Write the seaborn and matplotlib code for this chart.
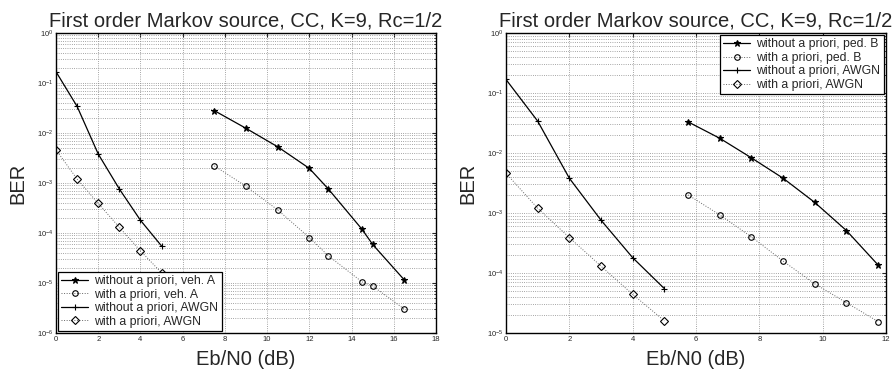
import numpy as np
import pandas as pd
import matplotlib
matplotlib.use("Agg")
import matplotlib.pyplot as plt
import seaborn as sns
from matplotlib.ticker import NullFormatter, FixedLocator

sns.set_style("white")
plt.rcParams['font.family'] = ['Liberation Sans', 'DejaVu Sans']

# ---- data ----
awgn_x = [0, 1, 2, 3, 4, 5]
awgn_without = [0.168, 0.034, 0.0038, 7.6e-4, 1.8e-4, 5.5e-5]
awgn_with = [4.6e-3, 1.2e-3, 3.9e-4, 1.3e-4, 4.4e-5, 1.6e-5]

veh_x = [7.5, 9, 10.5, 12, 12.9, 14.5, 15, 16.5]
veh_without = [0.028, 0.0124, 5.3e-3, 1.96e-3, 7.6e-4, 1.18e-4, 5.9e-5, 1.15e-5]
veh_with = [2.2e-3, 8.6e-4, 2.9e-4, 8.1e-5, 3.5e-5, 1.05e-5, 8.7e-6, 3.0e-6]

ped_x = [5.75, 6.75, 7.75, 8.75, 9.75, 10.75, 11.75]
ped_without = [0.033, 0.0176, 8.3e-3, 3.8e-3, 1.5e-3, 5.1e-4, 1.36e-4]
ped_with = [2.0e-3, 9.3e-4, 4.0e-4, 1.58e-4, 6.6e-5, 3.2e-5, 1.55e-5]

title = "First order Markov source, CC, K=9, Rc=1/2"
xlabel = "Eb/N0 (dB)"
ylabel = "BER"

fig = plt.figure(figsize=(8.95, 3.74), dpi=100)
axL = fig.add_axes([56/895, 41/374, 380/895, 300/374])
axR = fig.add_axes([506/895, 41/374, 380/895, 300/374])

def series(ax, x, y, marker, ls, label, ms, open_=False):
    if ls == '-':
        kw = dict(color='k', lw=0.9)
    else:
        kw = dict(color='#666666', lw=0.7)
    kw.update(marker=marker, linestyle=ls, markersize=ms, mec='k', mew=0.8)
    if open_:
        kw['mfc'] = 'none'
    else:
        kw['mfc'] = 'k'
    sns.lineplot(x=x, y=y, ax=ax, label=label, **kw)

def style(ax, xmax, ymin_exp, xstep=2):
    ax.set_yscale('log')
    ax.set_xlim(0, xmax)
    ax.set_ylim(10.0 ** ymin_exp, 1)
    ax.xaxis.set_major_locator(FixedLocator(np.arange(0, xmax + 0.1, xstep)))
    ax.yaxis.set_major_locator(FixedLocator(10.0 ** np.arange(ymin_exp, 1)))
    minors = [m * 10.0 ** e for e in range(ymin_exp, 0) for m in range(2, 10)]
    ax.yaxis.set_minor_locator(FixedLocator(minors))
    ax.yaxis.set_minor_formatter(NullFormatter())
    ax.grid(True, which='major', color='#888888', ls=':', lw=0.6)
    ax.grid(True, which='minor', axis='y', color='#888888', ls=':', lw=0.6)
    ax.tick_params(which='both', direction='in', top=True, right=True, labelsize=5.5, pad=2)
    ax.tick_params(which='major', length=3)
    ax.tick_params(which='minor', length=1.5)
    for s in ax.spines.values():
        s.set_color('k'); s.set_linewidth(1.0)
    ax.set_title(title, fontsize=14.5, pad=5)
    ax.set_xlabel(xlabel, fontsize=14.5, labelpad=5)
    ax.set_ylabel(ylabel, fontsize=14.5, labelpad=7)

legkw = dict(fontsize=8.8, frameon=True, fancybox=False, edgecolor='k',
             borderpad=0.25, labelspacing=0.12, handlelength=2.2,
             handletextpad=0.5, borderaxespad=0.2, framealpha=1)

# left
series(axL, veh_x, veh_without, '*', '-', 'without a priori, veh. A', 4.5)
series(axL, veh_x, veh_with, 'o', ':', 'with a priori, veh. A', 4, open_=True)
series(axL, awgn_x, awgn_without, '+', '-', 'without a priori, AWGN', 5)
series(axL, awgn_x, awgn_with, 'D', ':', 'with a priori, AWGN', 3.6, open_=True)
style(axL, 18, -6)
legL = axL.legend(loc='lower left', **legkw)
legL.get_frame().set_linewidth(0.9)

# right
series(axR, ped_x, ped_without, '*', '-', 'without a priori, ped. B', 4.5)
series(axR, ped_x, ped_with, 'o', ':', 'with a priori, ped. B', 4, open_=True)
series(axR, awgn_x, awgn_without, '+', '-', 'without a priori, AWGN', 5)
series(axR, awgn_x, awgn_with, 'D', ':', 'with a priori, AWGN', 3.6, open_=True)
style(axR, 12, -5)
legR = axR.legend(loc='upper right', **legkw)
legR.get_frame().set_linewidth(0.9)

fig.savefig("out.png", dpi=100)
